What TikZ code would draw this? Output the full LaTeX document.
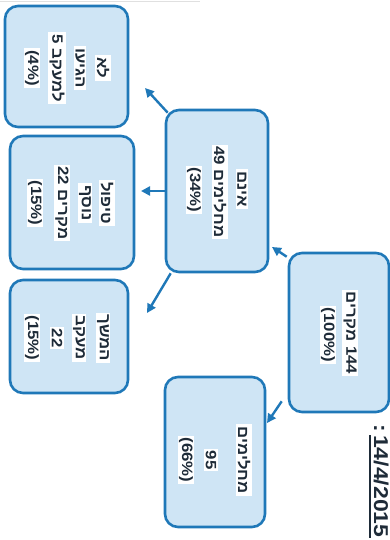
\documentclass[tikz,border=0pt]{standalone}
\usepackage{fontspec}
\setmainfont{Liberation Sans}
\newfontfamily\heb[Script=Hebrew,FakeStretch=1.12]{Liberation Sans}
\newfontfamily\datefont[FakeStretch=1.15]{Liberation Sans}
\TeXXeTstate=1
\usetikzlibrary{arrows.meta,calc}
\definecolor{bord}{HTML}{1F78B8}
\definecolor{fillb}{HTML}{CFE5F5}
\definecolor{ink}{HTML}{1E2B38}
\tikzset{
  box/.style={draw=bord, line width=2.6pt, fill=fillb, rounded corners=13pt, inner sep=0pt},
  arr/.style={draw=bord, line width=2.4pt, -{Triangle[length=9pt,width=9pt]}},
  ln/.style={rotate=-90, fill=white, text=ink, inner xsep=2pt, inner ysep=1.5pt,
    font=\heb\bfseries\fontsize{15}{18}\selectfont},
}
\begin{document}
\begin{tikzpicture}[x=1pt,y=-1pt]
\useasboundingbox (0,0) rectangle (390,540);
\clip (0,0) rectangle (390,540);
\draw[black!12, line width=1pt] (0,2) -- (200,2);
% boxes
\node[box, minimum width=123pt, minimum height=121pt] (A) at (66.5,66.5) {};
\node[box, minimum width=124pt, minimum height=133pt] (B) at (72,202.5) {};
\node[box, minimum width=118pt, minimum height=113pt] (C) at (69,336.5) {};
\node[box, minimum width=102pt, minimum height=162pt] (D) at (217,191) {};
\node[box, minimum width=100pt, minimum height=159pt] (E) at (339,332.5) {};
\node[box, minimum width=100pt, minimum height=150pt] (F) at (215,452) {};
% texts of A
\node[ln] (A1) at (103,68) {\beginR לא\endR};
\node[ln] (A2) at (80,68) {\beginR הגיעו\endR};
\node[ln] (A3) at (57,68) {\beginR למעקב \beginL 5\endL\endR};
\node[ln] (A4) at (32,68) {(4\%)};
% texts of B
\node[ln] (B1) at (107,203) {\beginR טיפול\endR};
\node[ln] (B2) at (85,203) {\beginR נוסף\endR};
\node[ln] (B3) at (62,203) {\beginR מקרים \beginL 22\endL\endR};
\node[ln] (B4) at (35,203) {(15\%)};
% texts of C
\node[ln] (C1) at (103,338) {\beginR המשך\endR};
\node[ln] (C2) at (79,338) {\beginR מעקב\endR};
\node[ln] (C3) at (57,338) {22};
\node[ln] (C4) at (32,338) {(15\%)};
% texts of D
\node[ln] (D1) at (242,189) {\beginR אינם\endR};
\node[ln] (D2) at (220,192) {\beginR מחלימים \beginL 49\endL\endR};
\node[ln] (D3) at (194,190) {(34\%)};
% texts of E
\node[ln] (E1) at (350,333) {\beginR \beginL 144\endL{} מקרים\endR};
\node[ln] (E2) at (328,335) {(100\%)};
% texts of F
\node[ln] (F1) at (244,460) {\beginR מחלימים\endR};
\node[ln] (F2) at (211,460) {95};
\node[ln] (F3) at (186,460) {(66\%)};
% arrows
\coordinate (tA) at (145,88);
\coordinate (tB) at (141,191);
\coordinate (tC) at (147,313);
\coordinate (tD) at (272,247);
\coordinate (tF) at (267,423);
\draw[arr] ($(D.north west)+(3,4)$) -- (tA);
\draw[arr] (D.west) -- (tB);
\draw[arr] ($(D.south west)+(6,0)$) -- (tC);
\draw[arr] ($(E.north west)+(-1,5)$) -- (tD);
\draw[arr] ($(E.south west)+(-6,-12)$) -- (tF);
% date
\node[rotate=-90, anchor=base west, inner sep=0pt, text=ink, font=\datefont\bfseries\fontsize{20}{20}\selectfont] (date) at (374,435) {14/4/2015};
\node[rotate=-90, anchor=base east, inner sep=0pt, text=ink, font=\datefont\bfseries\fontsize{20}{20}\selectfont] (colon) at (374,432) {:};
\draw[ink, line width=2.6pt] ($(date.base west)+(-4,0)$) -- ($(date.base east)+(-4,0)$);
\end{tikzpicture}
\end{document}
